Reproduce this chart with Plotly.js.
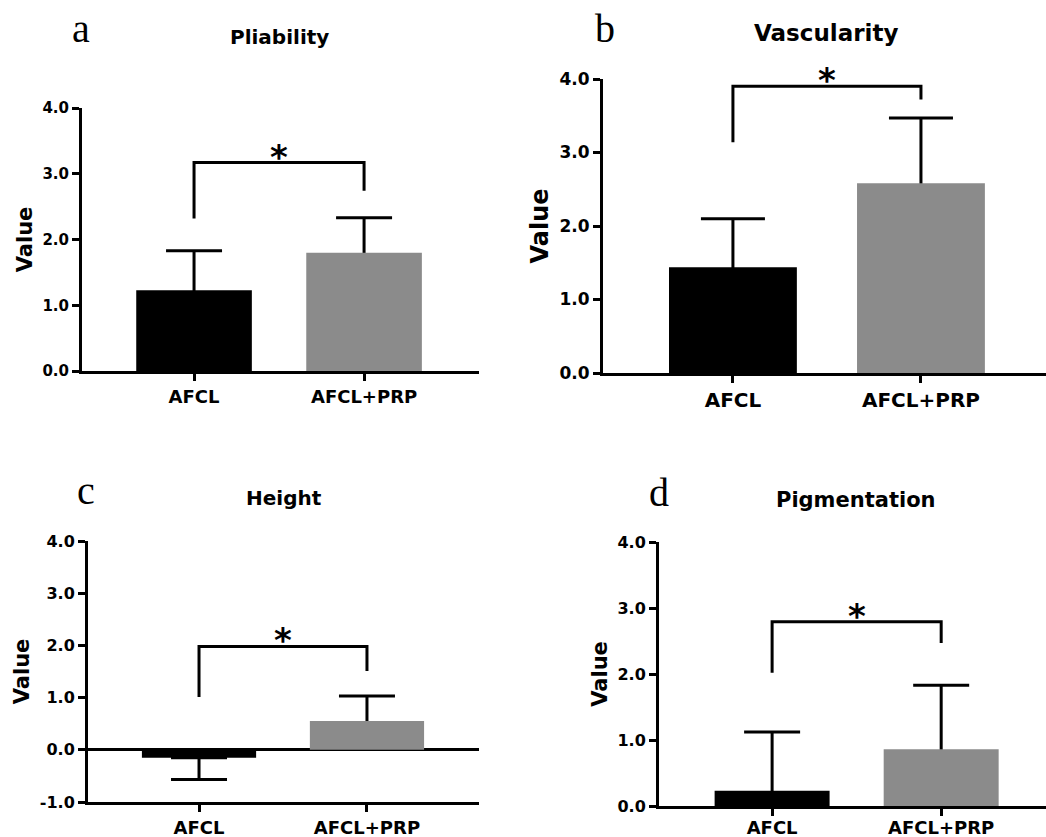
<!DOCTYPE html>
<html>
<head>
<meta charset="utf-8">
<script src="https://cdn.plot.ly/plotly-3.0.1.min.js"></script>
<style>html,body{margin:0;padding:0;background:#fff;}#chart{width:1046px;height:837px;}</style>
</head>
<body>
<div id="chart"></div>
<script>
// ---- data ----
var categories = ['AFCL', 'AFCL+PRP'];
var panelTitles = ['Pliability', 'Vascularity', 'Height', 'Pigmentation'];
var panelLetters = ['a', 'b', 'c', 'd'];

var pliabilityMean = [1.23, 1.80];
var pliabilitySD = [0.60, 0.53];
var vascularityMean = [1.44, 2.58];
var vascularitySD = [0.66, 0.89];
var heightMean = [-0.15, 0.55];
var heightSD = [0.42, 0.48];
var pigmentationMean = [0.23, 0.86];
var pigmentationSD = [0.89, 0.97];

// significance brackets: [left leg bottom, bracket top, right leg bottom]
var pliabilityBracket = [2.32, 3.17, 2.74];
var vascularityBracket = [3.14, 3.90, 3.72];
var heightBracket = [1.01, 1.98, 1.51];
var pigmentationBracket = [2.02, 2.79, 2.47];
var sigLabel = '*';

var scoreTicks = [0, 1, 2, 3, 4];
var scoreTickText = ['0.0', '1.0', '2.0', '3.0', '4.0'];
var heightTicks = [-1, 0, 1, 2, 3, 4];
var heightTickText = ['-1.0', '0.0', '1.0', '2.0', '3.0', '4.0'];

var barColors = ['#000000', '#8b8b8b'];

// ---- layout settings per panel ----
var W = 1046, H = 837;
var FONT = 'DejaVu Sans, Liberation Sans, Arial, sans-serif';
var SERIF = 'Liberation Serif, Times New Roman, serif';

var panels = [
  {means: pliabilityMean, sds: pliabilitySD, br: pliabilityBracket, ticks: scoreTicks, tt: scoreTickText,
   xdom: [82, 479], xr: [-0.659, 1.676], ydom: [108, 371], yr: [0, 4], zero: false,
   cap: 28, tickF: 15, catF: 18, titleF: 20, valF: 21, title: [279, 37], letter: [81, 28], catOff: 0},
  {means: vascularityMean, sds: vascularitySD, br: vascularityBracket, ticks: scoreTicks, tt: scoreTickText,
   xdom: [603, 1046], xr: [-0.691, 1.665], ydom: [79, 373], yr: [0, 4], zero: false,
   cap: 32, tickF: 17, catF: 20, titleF: 23, valF: 24, title: [826, 33], letter: [605, 28], catOff: 0},
  {means: heightMean, sds: heightSD, br: heightBracket, ticks: heightTicks, tt: heightTickText,
   xdom: [88, 479], xr: [-0.661, 1.667], ydom: [541, 802], yr: [-1, 4], zero: true,
   cap: 28, tickF: 16, catF: 18, titleF: 20, valF: 21, title: [284, 498], letter: [86, 490], catOff: 0},
  {means: pigmentationMean, sds: pigmentationSD, br: pigmentationBracket, ticks: scoreTicks, tt: scoreTickText,
   xdom: [659, 1046], xr: [-0.669, 1.62], ydom: [542, 806], yr: [0, 4], zero: false,
   cap: 28, tickF: 16, catF: 18, titleF: 21, valF: 21, title: [856, 500], letter: [659, 492], catOff: -4}
];

var data = [];
var layout = {
  width: W, height: H,
  margin: {l: 0, r: 0, t: 0, b: 0},
  paper_bgcolor: '#ffffff', plot_bgcolor: '#ffffff',
  showlegend: false, barmode: 'overlay',
  shapes: [], annotations: []
};

panels.forEach(function (p, k) {
  var xs = k === 0 ? 'x' : 'x' + (k + 1);
  var ys = k === 0 ? 'y' : 'y' + (k + 1);
  var xk = k === 0 ? 'xaxis' : 'xaxis' + (k + 1);
  var yk = k === 0 ? 'yaxis' : 'yaxis' + (k + 1);

  // error bars: drawn away from zero, partly hidden behind the bar (GraphPad style)
  var up = p.means.map(function (m, i) { return m >= 0 ? p.sds[i] : 0; });
  var down = p.means.map(function (m, i) { return p.sds[i]; });

  data.push({
    type: 'bar', x: categories, y: p.means, xaxis: xs, yaxis: ys, width: 0.68,
    marker: {color: 'rgba(0,0,0,0)'}, hoverinfo: 'skip',
    error_y: {type: 'data', symmetric: false, array: up, arrayminus: down,
              color: '#000', thickness: 3, width: p.cap}
  });
  data.push({
    type: 'bar', x: categories, y: p.means, xaxis: xs, yaxis: ys, width: 0.68,
    marker: {color: barColors, line: {width: 0}}
  });

  layout[xk] = {
    domain: [p.xdom[0] / W, Math.min(1, p.xdom[1] / W)],
    range: p.xr, type: 'category', anchor: ys,
    showline: true, linecolor: '#000', linewidth: 3,
    ticks: 'outside', ticklen: 7, tickwidth: 3, tickcolor: '#000',
    ticklabelstandoff: p.catOff,
    showgrid: false, zeroline: false, fixedrange: true,
    tickfont: {family: FONT, size: p.catF, color: '#000', weight: 'bold'}
  };
  layout[yk] = {
    domain: [1 - p.ydom[1] / H, 1 - p.ydom[0] / H],
    range: p.yr, anchor: xs,
    tickmode: 'array', tickvals: p.ticks, ticktext: p.tt,
    showline: true, linecolor: '#000', linewidth: 3,
    ticks: 'outside', ticklen: 7, tickwidth: 3, tickcolor: '#000',
    showgrid: false, fixedrange: true,
    zeroline: p.zero, zerolinecolor: '#000', zerolinewidth: 3,
    tickfont: {family: FONT, size: p.tickF, color: '#000', weight: 'bold'},
    title: {text: 'Value', standoff: 5,
            font: {family: FONT, size: p.valF, color: '#000', weight: 'bold'}}
  };

  // significance bracket
  var b = p.br;
  layout.shapes.push({
    type: 'path', xref: xs, yref: ys,
    path: 'M 0,' + b[0] + ' L 0,' + b[1] + ' L 1,' + b[1] + ' L 1,' + b[2],
    line: {color: '#000', width: 3}
  });
  layout.annotations.push({
    xref: xs, yref: ys, x: 0.5, y: b[1], text: sigLabel, showarrow: false,
    xanchor: 'center', yanchor: 'middle', yshift: 6,
    font: {family: FONT, size: 34, color: '#000', weight: 'bold'}
  });

  // panel title and letter
  layout.annotations.push({
    xref: 'paper', yref: 'paper', x: p.title[0] / W, y: 1 - p.title[1] / H,
    text: panelTitles[k], showarrow: false, xanchor: 'center', yanchor: 'middle',
    font: {family: FONT, size: p.titleF, color: '#000', weight: 'bold'}
  });
  layout.annotations.push({
    xref: 'paper', yref: 'paper', x: p.letter[0] / W, y: 1 - p.letter[1] / H,
    text: panelLetters[k], showarrow: false, xanchor: 'center', yanchor: 'middle',
    font: {family: SERIF, size: 40, color: '#000'}
  });
});

Plotly.newPlot('chart', data, layout, {displayModeBar: false, staticPlot: true});
</script>
</body>
</html>
